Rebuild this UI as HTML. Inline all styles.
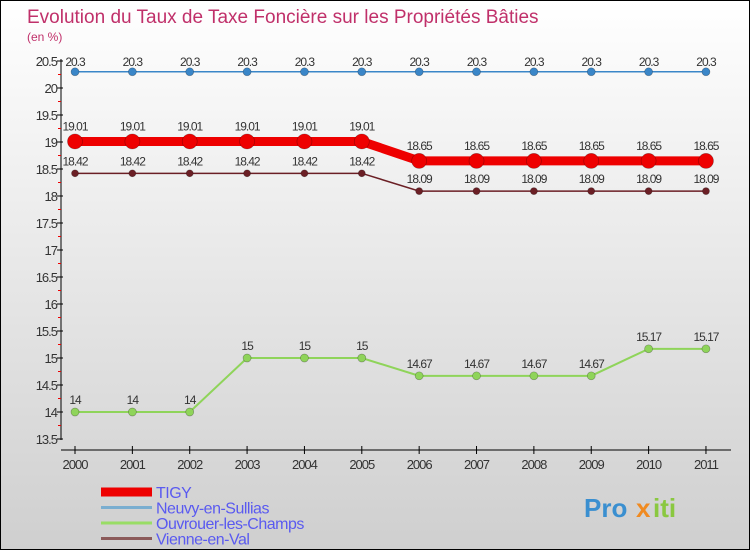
<!DOCTYPE html>
<html><head><meta charset="utf-8"><style>
body{margin:0}
#c{width:748px;height:548px;border:1px solid #000;background:linear-gradient(#ffffff,#cfcfcf);position:relative;font-family:"Liberation Sans",sans-serif}
</style></head><body>
<div id="c">
<svg id="s" width="748" height="548"></svg>
</div>
<script>
const years=["2000","2001","2002","2003","2004","2005","2006","2007","2008","2009","2010","2011"];
const tigy=[19.01,19.01,19.01,19.01,19.01,19.01,18.65,18.65,18.65,18.65,18.65,18.65];
const neuvy=[20.3,20.3,20.3,20.3,20.3,20.3,20.3,20.3,20.3,20.3,20.3,20.3];
const ouvrouer=[14,14,14,15,15,15,14.67,14.67,14.67,14.67,15.17,15.17];
const vienne=[18.42,18.42,18.42,18.42,18.42,18.42,18.09,18.09,18.09,18.09,18.09,18.09];
const yTicks=[13.5,14,14.5,15,15.5,16,16.5,17,17.5,18,18.5,19,19.5,20,20.5];
const NS="http://www.w3.org/2000/svg",s=document.getElementById('s');
const X=i=>74+i*57.36, Y=v=>60+(20.5-v)*54;
function el(t,a,txt){const e=document.createElementNS(NS,t);for(const k in a)e.setAttribute(k,a[k]);if(txt!==undefined)e.textContent=txt;s.appendChild(e);return e;}
let e;
e=el('text',{x:26,y:22,fill:'#c0306a','font-size':19},'Evolution du Taux de Taxe Foncière sur les Propriétés Bâties');

e=el('text',{x:26,y:40,fill:'#c0306a','font-size':12},'(en %)');

e=el('line',{x1:60,y1:58,x2:60,y2:439,stroke:'#000'});

e=el('line',{x1:60,y1:449,x2:730,y2:449,stroke:'#000'});

yTicks.forEach((v,i)=>{
  el('line',{x1:56,y1:Y(v),x2:62,y2:Y(v),stroke:'#000'});
  if(i<yTicks.length-1)el('line',{x1:57,y1:Y(v)-13.5,x2:60,y2:Y(v)-13.5,stroke:'#e00'});
  e=el('text',{x:56,y:Y(v)+5,'text-anchor':'end','font-size':13,fill:'#333','letter-spacing':'-1'},String(v));
  
});
years.forEach((y,i)=>{
  el('line',{x1:X(i),y1:445,x2:X(i),y2:453,stroke:'#000'});
  e=el('text',{x:X(i),y:468,'text-anchor':'middle','font-size':13,fill:'#333','letter-spacing':'-1'},y);
  
});
function series(name,vals,color,w,r,labelDy){
  const pts=vals.map((v,i)=>X(i)+','+Y(v)).join(' ');
  e=el('polyline',{points:pts,fill:'none',stroke:color,'stroke-width':w});
  
  vals.forEach((v,i)=>{
    e=el('circle',{cx:X(i),cy:Y(v),r:r,fill:color,stroke:'rgba(0,0,0,0.3)','stroke-width':0.7});
    
    e=el('text',{x:X(i),y:Y(v)+labelDy,'text-anchor':'middle','font-size':12,fill:'#333','letter-spacing':'-1'},String(v));
    
  });
}
series('neuvy',neuvy,'#3a86c8',1.5,4,-6);
series('vienne',vienne,'#6b1f25',1.5,3.5,-8);
series('ouvrouer',ouvrouer,'#8fd45a',2,4,-8);
series('tigy',tigy,'#ee0000',9,7.5,-11);
const legend=[["TIGY","#ee0000",9],["Neuvy-en-Sullias","#7aaed0",3],["Ouvrouer-les-Champs","#99dd66",3],["Vienne-en-Val","#8b5a5a",3]];
legend.forEach((l,i)=>{
  const y=491+i*15.5;
  e=el('line',{x1:100,y1:y,x2:151,y2:y,stroke:l[1],'stroke-width':l[2]});
  
  e=el('text',{x:155,y:y+6,'font-size':16,fill:'#5a5af0','letter-spacing':'-0.5'},l[0]);
  
});
e=el('text',{x:583,y:516,'font-size':26,'font-weight':'bold',fill:'#3a8fd0'},'Pro');

e=el('text',{x:635,y:516,'font-size':26,'font-weight':'bold',fill:'#f08a20'},'x');
e=el('text',{x:652,y:516,'font-size':26,'font-weight':'bold',fill:'#8ac840'},'iti');
</script>
</body></html>
